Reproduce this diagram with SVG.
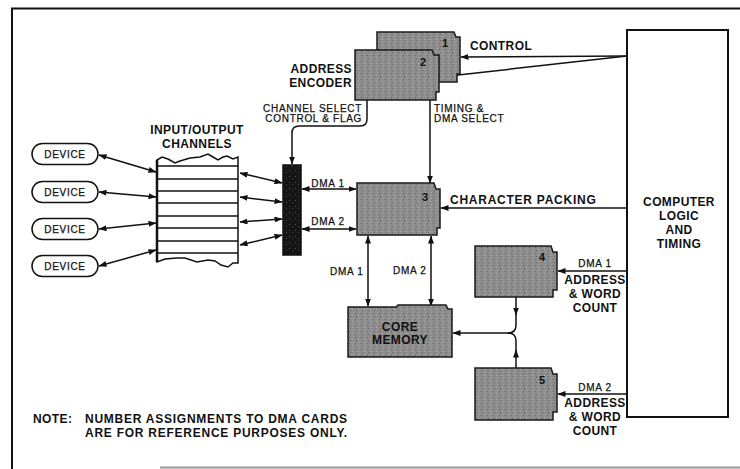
<svg xmlns="http://www.w3.org/2000/svg" width="740" height="469" viewBox="0 0 740 469">
<defs>
<pattern id="speck" width="6" height="6" patternUnits="userSpaceOnUse">
<rect width="6" height="6" fill="#8d8d8d"/>
<rect x="1" y="1" width="1" height="1" fill="#5e5e5e"/>
<rect x="4" y="3" width="1" height="1" fill="#b5b5b5"/>
<rect x="2" y="4" width="1" height="1" fill="#6a6a6a"/>
<rect x="5" y="0" width="1" height="1" fill="#a8a8a8"/>
</pattern>
<pattern id="darkspeck" width="6" height="6" patternUnits="userSpaceOnUse">
<rect width="6" height="6" fill="#151515"/>
<rect x="1" y="2" width="1" height="1" fill="#555"/>
<rect x="4" y="4" width="1" height="1" fill="#444"/>
</pattern>
<marker id="ah" viewBox="0 0 8 6" refX="7.5" refY="3" markerWidth="8" markerHeight="6" markerUnits="userSpaceOnUse" orient="auto-start-reverse">
<path d="M0,0 L8,3 L0,6 Z" fill="#111"/>
</marker>
<style>
.card{fill:url(#speck);stroke:#1a1a1a;stroke-width:1.5}
.ln{fill:none;stroke:#111;stroke-width:1.5}
.dbl{fill:none;stroke:#111;stroke-width:1.5;marker-start:url(#ah);marker-end:url(#ah)}
.one{fill:none;stroke:#111;stroke-width:1.5;marker-end:url(#ah)}
.big{font-family:"Liberation Sans",Arial,sans-serif;font-weight:bold;font-size:12px;fill:#111;letter-spacing:0.4px}
.wide{letter-spacing:0.75px}
.sm{font-family:"Liberation Sans",Arial,sans-serif;font-size:10px;fill:#111;letter-spacing:0.7px;stroke:#111;stroke-width:0.25px}
.num{font-family:"Liberation Sans",Arial,sans-serif;font-weight:bold;font-size:11px;fill:#111}
.mid{text-anchor:middle}
.end{text-anchor:end}
</style>
</defs>
<rect width="740" height="469" fill="#fff"/>
<g id="frame">
<path d="M740,8.5 H12 V469" fill="none" stroke="#111" stroke-width="2"/>
<path d="M160,467.5 H740" fill="none" stroke="#999" stroke-width="2"/>
</g>

<g id="connectors">
<line class="dbl" x1="99" y1="155" x2="156" y2="172"/>
<line class="dbl" x1="99" y1="192" x2="156" y2="197"/>
<line class="dbl" x1="99" y1="229" x2="156" y2="223"/>
<line class="dbl" x1="99" y1="266" x2="156" y2="250"/>
<line class="dbl" x1="240" y1="173" x2="282" y2="183"/>
<line class="dbl" x1="240" y1="197" x2="282" y2="202"/>
<line class="dbl" x1="240" y1="222" x2="282" y2="219"/>
<line class="dbl" x1="240" y1="245" x2="282" y2="235"/>
<line class="dbl" x1="302" y1="189" x2="356" y2="189"/>
<line class="dbl" x1="302" y1="229" x2="356" y2="229"/>
<path class="one" d="M367,100 V119 Q367,126 360,126 H299 Q292,126 292,133 V164"/>
<line class="one" x1="430" y1="100" x2="430" y2="183"/>
<line class="one" x1="627" y1="56" x2="461" y2="57"/>
<line class="one" x1="627" y1="56" x2="440" y2="77"/>
<line class="one" x1="627" y1="208" x2="441" y2="208"/>
<line class="dbl" x1="368" y1="236" x2="368" y2="306"/>
<line class="dbl" x1="431" y1="236" x2="431" y2="306"/>
<line class="one" x1="627" y1="271" x2="558" y2="271"/>
<line class="one" x1="627" y1="394" x2="558" y2="394"/>
<line class="one" x1="516" y1="297" x2="516" y2="315"/>
<line class="one" x1="516" y1="368" x2="516" y2="350"/>
<path class="ln" d="M516,314 V325 Q516,333 508,333"/>
<path class="ln" d="M516,351 V341 Q516,333 508,333"/>
<line class="one" x1="509" y1="333" x2="453" y2="333"/>
</g>

<g id="device1"><rect x="32" y="143.5" width="66" height="21" rx="10.5" fill="#fff" stroke="#111" stroke-width="1.5"/><text class="sm mid" x="65" y="158">DEVICE</text></g>
<g id="device2"><rect x="32" y="181.5" width="66" height="21" rx="10.5" fill="#fff" stroke="#111" stroke-width="1.5"/><text class="sm mid" x="65" y="196">DEVICE</text></g>
<g id="device3"><rect x="32" y="218.5" width="66" height="21" rx="10.5" fill="#fff" stroke="#111" stroke-width="1.5"/><text class="sm mid" x="65" y="233">DEVICE</text></g>
<g id="device4"><rect x="32" y="255.5" width="66" height="21" rx="10.5" fill="#fff" stroke="#111" stroke-width="1.5"/><text class="sm mid" x="65" y="270">DEVICE</text></g>

<g id="io-channels">
<text class="big mid" x="197" y="134">INPUT/OUTPUT</text>
<text class="big mid" x="197" y="148">CHANNELS</text>
<path d="M157,262 V160 L162,157 L168,159 L175,163 L180,161 L190,158 L200,157 L208,154 L213,157 L218,160 L223,157 L227,156 L233,159 L238,157 V263 L233,263 L228,267 L221,265 L215,261 L208,260 L197,262 L185,258 L177,258 L165,259 Z" fill="#fff" stroke="#111" stroke-width="1.5"/>
<line x1="157" y1="160" x2="157" y2="262" stroke="#111" stroke-width="2.5"/>
<g stroke="#111" stroke-width="1.3">
<line x1="157" y1="166" x2="238" y2="166"/>
<line x1="157" y1="179" x2="238" y2="179"/>
<line x1="157" y1="191" x2="238" y2="191"/>
<line x1="157" y1="203" x2="238" y2="203"/>
<line x1="157" y1="216" x2="238" y2="216"/>
<line x1="157" y1="228" x2="238" y2="228"/>
<line x1="157" y1="241" x2="238" y2="241"/>
<line x1="157" y1="253" x2="238" y2="253"/>
</g>
</g>

<g id="selector"><rect x="283" y="165" width="18" height="90" fill="url(#darkspeck)" stroke="#111" stroke-width="1.5"/></g>

<g id="address-encoder">
<path class="card" d="M377,32 H454 L456,37 H460 V74 H457 V82 H377 Z"/>
<text class="num" x="442" y="47">1</text>
<path class="card" d="M355,50 H432 L434,55 H439 V92 H436 V100 H355 Z"/>
<text class="num" x="420" y="66">2</text>
<text class="big end" x="352" y="73">ADDRESS</text>
<text class="big end" x="352" y="87">ENCODER</text>
<text class="big" x="470" y="50">CONTROL</text>
<text class="sm end" x="362" y="112">CHANNEL SELECT</text>
<text class="sm end" x="362" y="122">CONTROL &amp; FLAG</text>
<text class="sm" x="434" y="112">TIMING &amp;</text>
<text class="sm" x="434" y="122">DMA SELECT</text>
</g>

<g id="card3">
<path class="card" d="M357,183 H434 L436,189 H440 V228 H437 V235 H357 Z"/>
<text class="num" x="422" y="201">3</text>
<text class="sm mid" x="328" y="187">DMA 1</text>
<text class="sm mid" x="328" y="225">DMA 2</text>
<text class="big wide" x="450" y="204">CHARACTER PACKING</text>
<text class="sm" x="330" y="275">DMA 1</text>
<text class="sm" x="393" y="274">DMA 2</text>
</g>

<g id="core-memory">
<path class="card" d="M348,307 H396 L398,305 H446 L448,309 H452 V357 H348 Z"/>
<text class="big mid" x="400" y="331">CORE</text>
<text class="big mid" x="400" y="344">MEMORY</text>
</g>

<g id="card4">
<path class="card" d="M475,246 H551 L553,252 H557 V290 H553 V297 H475 Z"/>
<text class="num" x="539" y="261">4</text>
<text class="sm mid" x="595" y="267">DMA 1</text>
<text class="big mid" x="595" y="284">ADDRESS</text>
<text class="big mid" x="595" y="298">&amp; WORD</text>
<text class="big mid" x="595" y="312">COUNT</text>
</g>

<g id="card5">
<path class="card" d="M475,368 H551 L553,374 H557 V412 H553 V420 H475 Z"/>
<text class="num" x="539" y="384">5</text>
<text class="sm mid" x="595" y="391">DMA 2</text>
<text class="big mid" x="595" y="407">ADDRESS</text>
<text class="big mid" x="595" y="421">&amp; WORD</text>
<text class="big mid" x="595" y="435">COUNT</text>
</g>

<g id="computer">
<rect x="627" y="30" width="101" height="387" fill="#fff" stroke="#111" stroke-width="2"/>
<text class="big mid" x="679" y="206">COMPUTER</text>
<text class="big mid" x="679" y="220">LOGIC</text>
<text class="big mid" x="679" y="234">AND</text>
<text class="big mid" x="679" y="248">TIMING</text>
</g>

<g id="note">
<text class="big" x="33" y="423">NOTE:</text>
<text class="big wide" x="85" y="423">NUMBER ASSIGNMENTS TO DMA CARDS</text>
<text class="big wide" x="85" y="437">ARE FOR REFERENCE PURPOSES ONLY.</text>
</g>
</svg>
